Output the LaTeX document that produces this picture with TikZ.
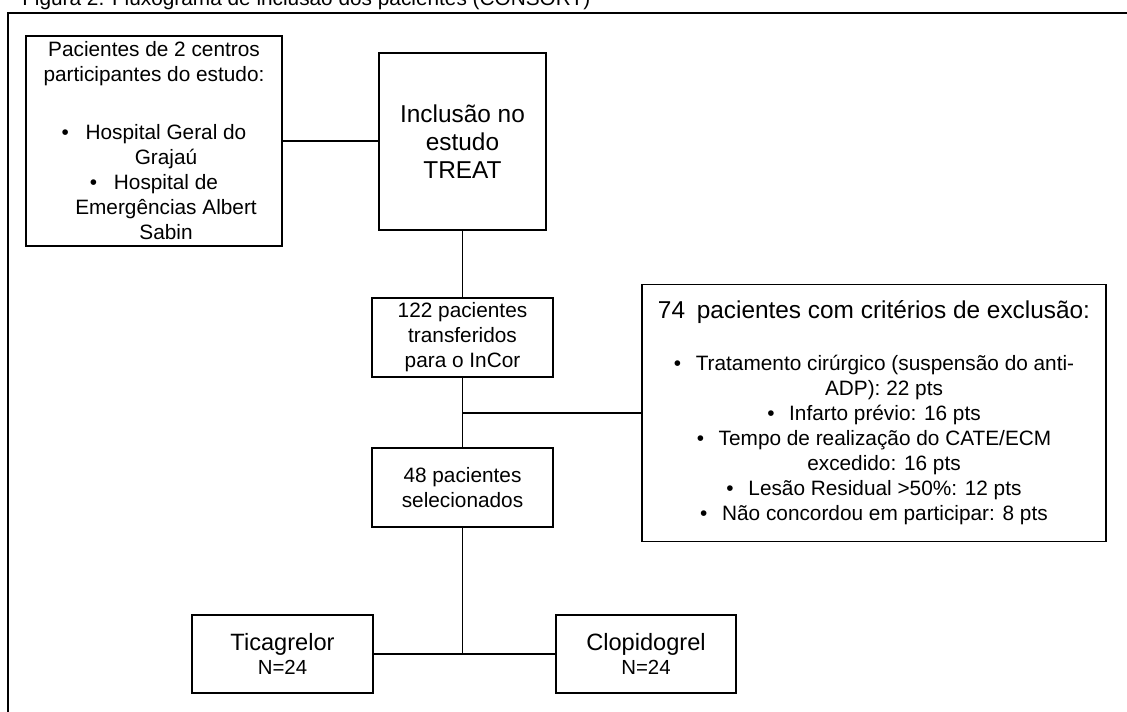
\documentclass[tikz,border=0pt]{standalone}
\usepackage{fontspec}
\setmainfont{Liberation Sans}
\begin{document}
\begin{tikzpicture}[x=0.75pt,y=-0.75pt,
  box/.style={draw=black,line width=1.1pt,inner sep=0pt,align=center,
    font=\fontsize{15.6pt}{18.75pt}\selectfont},
  conn/.style={draw=black,line width=1pt},
  frame/.style={draw=black,line width=1.4pt}]
\useasboundingbox (0,0) rectangle (1127,711);
% outer frame (extends past the right and bottom edge)
\draw[frame] (8,1000) -- (8,13) -- (1200,13);
\node[anchor=base west,inner sep=0pt,font=\fontsize{15.6pt}{18.75pt}\selectfont] (title) at (22,5)
  {Figura 2. Fluxograma de inclusão dos pacientes (CONSORT)};
% boxes
\node[box,minimum width=192pt,minimum height=157.5pt] (b1) at (154,141)
  {Pacientes de 2 centros\\participantes do estudo:\\[24.75pt]
   •\hspace{12.5pt}Hospital Geral do\\
   \hspace*{18pt}Grajaú\\
   •\hspace{12.5pt}Hospital de\\
   \hspace*{18pt}Emergências Albert\\
   \hspace*{18pt}Sabin};
\node[box,minimum width=125.25pt,minimum height=132.75pt,
  font=\fontsize{18.3pt}{21pt}\selectfont] (b2) at (462.5,141.5)
  {Inclusão no\\estudo\\TREAT};
\node[box,minimum width=135.75pt,minimum height=59.25pt] (b3) at (462.5,337.5)
  {122 pacientes\\transferidos\\para o InCor};
\node[box,minimum width=348pt,minimum height=192.75pt] (b4) at (874,413)
  {{\fontsize{18.3pt}{21pt}\selectfont 74\hspace{0.48em}pacientes com critérios de exclusão:}\\[20.25pt]
   •\hspace{11pt}Tratamento cirúrgico (suspensão do anti-\\
   \hspace*{15pt}ADP): 22 pts\\
   •\hspace{11pt}Infarto prévio: 16 pts\\
   •\hspace{11pt}Tempo de realização do CATE/ECM\\
   \hspace*{15pt}excedido: 16 pts\\
   •\hspace{11pt}Lesão Residual >50\%: 12 pts\\
   •\hspace{11pt}Não concordou em participar: 8 pts};
\node[box,minimum width=135.75pt,minimum height=59.25pt] (b5) at (462.5,487.5)
  {48 pacientes\\selecionados};
\node[box,minimum width=135.75pt,minimum height=58.5pt,
  font=\fontsize{15.3pt}{18pt}\selectfont] (b6) at (282.5,654)
  {{\fontsize{17.7pt}{18pt}\selectfont Ticagrelor}\\N=24};
\node[box,minimum width=135pt,minimum height=58.5pt,
  font=\fontsize{15.3pt}{18pt}\selectfont] (b7) at (646,654)
  {{\fontsize{17.7pt}{18pt}\selectfont Clopidogrel}\\N=24};
% connectors
\coordinate (j1) at (b3.south |- b4.west);
\coordinate (j2) at (b5.south |- b6.east);
\draw[conn] (b1.east) -- (b1.east -| b2.west);
\draw[conn] (b2.south) -- (b3.north);
\draw[conn] (b3.south) -- (j1) -- (b5.north);
\draw[conn] (j1) -- (b4.west);
\draw[conn] (b5.south) -- (j2);
\draw[conn] (b6.east) -- (b7.west);
\end{tikzpicture}
\end{document}
